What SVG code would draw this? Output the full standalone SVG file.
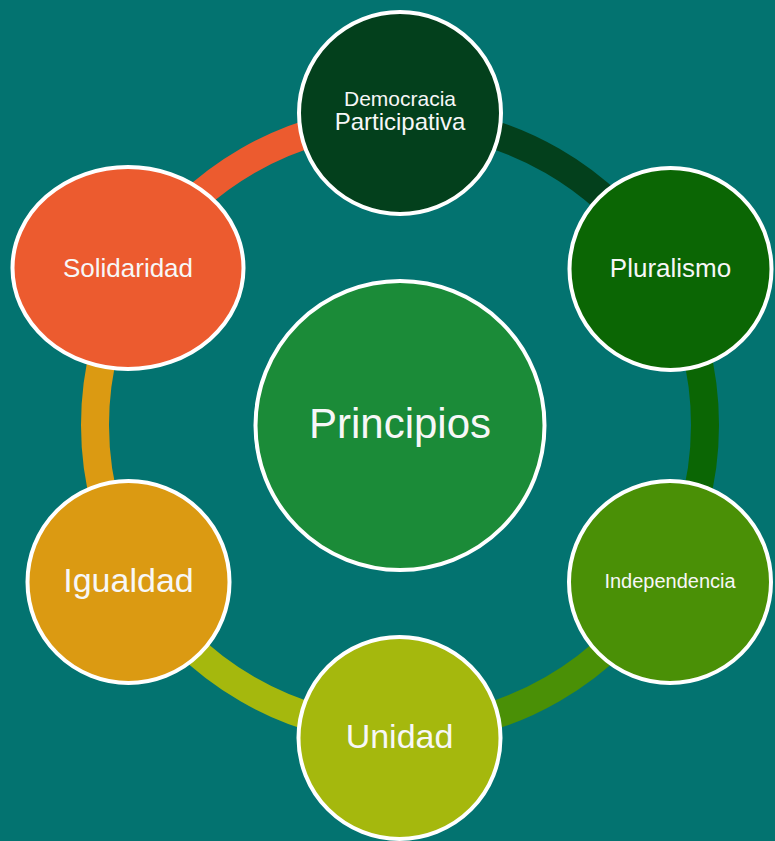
<svg xmlns="http://www.w3.org/2000/svg" width="775" height="841" viewBox="0 0 775 841">
<style>
.arc{fill:none;stroke-width:28;stroke-linecap:butt}
.node{stroke:#ffffff;stroke-width:4}
.lbl{fill:#f7f7f7;font-family:"Liberation Sans",Arial,sans-serif;text-anchor:middle}
</style>
<rect x="0" y="0" width="775" height="841" fill="#037370"/>
<g id="connectors">
<path class="arc" stroke="#03401c" d="M400,120 A305,305 0 0 1 664.14,272.5"/>
<path class="arc" stroke="#0b6604" d="M664.14,272.5 A305,305 0 0 1 664.14,577.5"/>
<path class="arc" stroke="#4a9006" d="M664.14,577.5 A305,305 0 0 1 400,730"/>
<path class="arc" stroke="#a5b80d" d="M400,730 A305,305 0 0 1 135.86,577.5"/>
<path class="arc" stroke="#db9a12" d="M135.86,577.5 A305,305 0 0 1 135.86,272.5"/>
<path class="arc" stroke="#ec5b2f" d="M135.86,272.5 A305,305 0 0 1 400,120"/>
</g>
<g id="principios">
<circle class="node" cx="400" cy="425.5" r="144.5" fill="#1b8b38"/>
<text class="lbl" x="400" y="438" font-size="42">Principios</text>
</g>
<g id="democracia">
<circle class="node" cx="400" cy="113" r="101" fill="#03401c"/>
<text class="lbl" x="400" y="106" font-size="21">Democracia</text>
<text class="lbl" x="400" y="130" font-size="24">Participativa</text>
</g>
<g id="pluralismo">
<circle class="node" cx="670.5" cy="269" r="101" fill="#0b6604"/>
<text class="lbl" x="670.5" y="277" font-size="26">Pluralismo</text>
</g>
<g id="independencia">
<circle class="node" cx="670" cy="582" r="101" fill="#4a9006"/>
<text class="lbl" x="670" y="588" font-size="20">Independencia</text>
</g>
<g id="unidad">
<circle class="node" cx="399.5" cy="738" r="101" fill="#a5b80d"/>
<text class="lbl" x="399.5" y="748" font-size="34">Unidad</text>
</g>
<g id="igualdad">
<circle class="node" cx="128.5" cy="582" r="101" fill="#db9a12"/>
<text class="lbl" x="128.5" y="592" font-size="34">Igualdad</text>
</g>
<g id="solidaridad">
<ellipse class="node" cx="128" cy="268" rx="115.5" ry="101" fill="#ec5b2f"/>
<text class="lbl" x="128" y="277" font-size="26">Solidaridad</text>
</g>
</svg>
